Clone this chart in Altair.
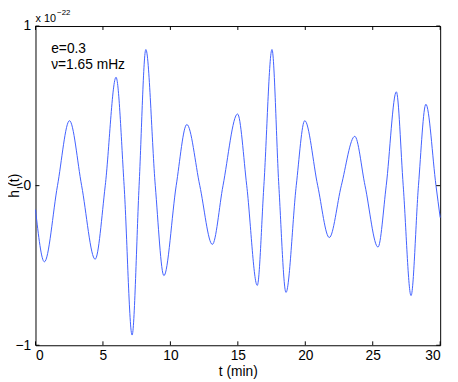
import altair as alt
import pandas as pd

# Waveform (extrema and zero crossings)
t_min = [0, 0.66, 1.63, 2.52, 3.42, 4.42, 5.17, 5.97, 6.57, 7.16, 7.68, 8.18, 8.88,
         9.52, 10.43, 11.22, 12.18, 13.11, 13.9, 14.98, 15.66, 16.44, 16.93, 17.53,
         18.04, 18.57, 19.33, 19.96, 20.92, 21.78, 22.67, 23.67, 24.43, 25.39, 26.0,
         26.75, 27.26, 27.84, 28.39, 28.94, 29.69, 30]
h_val = [-0.15, -0.477, 0, 0.407, 0, -0.461, 0, 0.679, 0, -0.936, 0, 0.853, 0,
         -0.564, 0, 0.383, 0, -0.368, 0, 0.449, 0, -0.625, 0, 0.853,
         0, -0.669, 0, 0.407, 0, -0.325, 0, 0.309, 0, -0.385, 0,
         0.588, 0, -0.689, 0, 0.51, 0, -0.2]

x_ticks = [0, 5, 10, 15, 20, 25, 30]
y_ticks = [-1, 0, 1]

W, H = 412, 325
FONT = "Liberation Sans"

df = pd.DataFrame({"t": t_min, "h": h_val})
xt = pd.DataFrame({"t": x_ticks})
yt = pd.DataFrame({"v": y_ticks})

xscale = alt.Scale(domain=[0, 30], nice=False, zero=False)
yscale = alt.Scale(domain=[-1, 1], nice=False, zero=False)

line = alt.Chart(df).mark_line(
    color="#3f5fff", strokeWidth=1, interpolate="monotone"
).encode(
    x=alt.X("t:Q", scale=xscale,
            axis=alt.Axis(values=x_ticks, format="d", title="t (min)", grid=False,
                          ticks=False, tickSize=0, domain=False, labelPadding=3,
                          labelFontSize=14, labelFont=FONT, labelColor="black",
                          labelOverlap=False,
                          titleFont=FONT, titleFontSize=14, titleFontWeight="normal",
                          titleColor="black", titlePadding=3)),
    y=alt.Y("h:Q", scale=yscale,
            axis=alt.Axis(values=y_ticks, title=None, grid=False,
                          labelExpr="datum.value < 0 ? '−1' : (datum.value > 0 ? '1' : '0')",
                          labelOverlap=False,
                          ticks=False, tickSize=0, domain=False, labelPadding=5,
                          labelFontSize=14, labelFont=FONT, labelColor="black")),
)

tick_bottom = alt.Chart(xt).mark_rule(color="black", strokeWidth=1).encode(
    x=alt.X("t:Q", scale=xscale), y=alt.value(H), y2=alt.value(H - 4))
tick_top = alt.Chart(xt).mark_rule(color="black", strokeWidth=1).encode(
    x=alt.X("t:Q", scale=xscale), y=alt.value(0), y2=alt.value(4))
tick_left = alt.Chart(yt).mark_rule(color="black", strokeWidth=1).encode(
    y=alt.Y("v:Q", scale=yscale), x=alt.value(0), x2=alt.value(4))
tick_right = alt.Chart(yt).mark_rule(color="black", strokeWidth=1).encode(
    y=alt.Y("v:Q", scale=yscale), x=alt.value(W - 4), x2=alt.value(W))


def label(txt, x, y, size=14, angle=0, align="left", baseline="alphabetic"):
    kw = dict(font=FONT, fontSize=size, color="black", align=align, baseline=baseline)
    if angle:
        kw["angle"] = angle
    return alt.Chart(pd.DataFrame({"s": [txt]})).mark_text(**kw).encode(
        text="s:N", x=alt.value(x), y=alt.value(y))


texts = [
    label("e=0.3", 16, 27),
    label("ν=1.65 mHz", 16, 44),
    label("x 10", 0, -4, size=11),
    label("−22", 22, -11.5, size=8),
    label("h", -17, 171, angle=270, align="center"),
    label("I", -12.5, 164.5, size=10, angle=270, align="center"),
    label("(t)", -17, 157, angle=270, align="center"),
]

chart = alt.layer(line, tick_bottom, tick_top, tick_left, tick_right, *texts).properties(
    width=W, height=H,
    background="white",
    autosize=alt.AutoSizeParams(type="none"),
    padding={"left": 28, "top": 15, "right": 10, "bottom": 32},
).configure_view(stroke="black", strokeWidth=1)

chart.save("out.html", embed_options={"renderer": "svg", "actions": False})
